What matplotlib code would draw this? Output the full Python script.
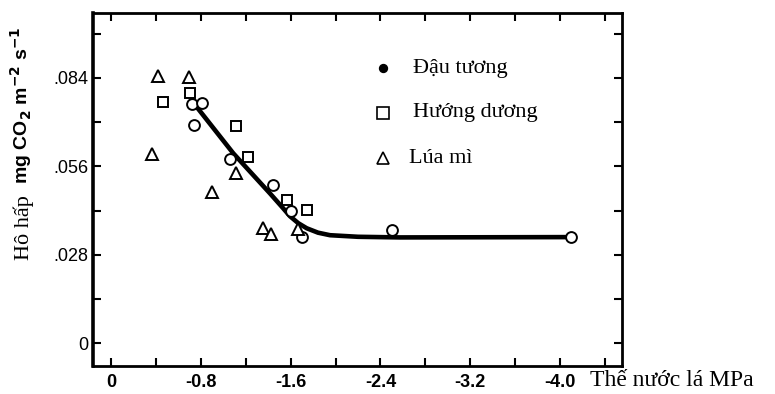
import matplotlib
matplotlib.use("Agg")
import matplotlib.pyplot as plt
from matplotlib.ticker import MultipleLocator, FixedLocator

# Data (leaf water potential MPa, respiration mg CO2 m-2 s-1)
soy_x = [-0.716, -0.805, -0.739, -1.058, -1.444, -1.599, -1.697, -2.501, -4.105]
soy_y = [0.0757, 0.0759, 0.0692, 0.0583, 0.0501, 0.0420, 0.0337, 0.0358, 0.0336]

sun_x = [-0.701, -0.457, -1.111, -1.216, -1.564, -1.742]
sun_y = [0.0791, 0.0762, 0.0686, 0.0590, 0.0453, 0.0423]

wheat_x = [-0.418, -0.694, -0.359, -1.108, -0.900, -1.349, -1.421, -1.667]
wheat_y = [0.0846, 0.0842, 0.0599, 0.0538, 0.0478, 0.0366, 0.0346, 0.0361]

curve_x = [-0.760, -1.087, -1.415, -1.530, -1.593, -1.667, -1.742, -1.843, -1.950, -2.200, -2.575, -4.105]
curve_y = [0.0748, 0.0601, 0.0474, 0.0428, 0.0402, 0.0380, 0.0364, 0.0350, 0.0342, 0.0337, 0.0335, 0.0336]

xticks = [0, -0.8, -1.6, -2.4, -3.2, -4.0]
xticklabels = ["0", "-0.8", "-1.6", "-2.4", "-3.2", "-4.0"]
yticks = [0, 0.028, 0.056, 0.084]
yticklabels = ["0", ".028", ".056", ".084"]

legend_labels = ["Đậu tương", "Hướng dương", "Lúa mì"]

W, H = 775, 394
fig = plt.figure(figsize=(W / 100, H / 100), dpi=100)
ax_l, ax_r, ax_t, ax_b = 93, 621.7, 13, 366
ax = fig.add_axes([ax_l / W, 1 - ax_b / H, (ax_r - ax_l) / W, (ax_b - ax_t) / H])

ax.plot(curve_x, curve_y, color="black", lw=3.3, solid_capstyle="round",
        solid_joinstyle="round", zorder=2)
mk = dict(ls="", mfc="white", mec="black", mew=1.4, zorder=3, clip_on=False)
ax.plot(soy_x, soy_y, marker="o", ms=7.8, **mk)
ax.plot(sun_x, sun_y, marker="s", ms=7.5, **mk)
ax.plot(wheat_x, wheat_y, marker="^", ms=8, **mk)

ax.set_xlim(0.165, -4.553)
ax.set_ylim(-0.00718, 0.1045)

ax.xaxis.set_major_locator(FixedLocator(xticks))
ax.xaxis.set_minor_locator(MultipleLocator(0.4))
ax.yaxis.set_major_locator(FixedLocator(yticks))
ax.yaxis.set_minor_locator(MultipleLocator(0.014))
ax.set_xticklabels(xticklabels, fontfamily="Liberation Sans", fontweight="bold", fontsize=13)
ax.set_yticklabels(yticklabels, fontfamily="Liberation Sans", fontsize=13)

ax.tick_params(which="both", direction="in", top=True, right=True, length=6, width=1.5, color="black")
ax.tick_params(axis="x", pad=6)
ax.tick_params(axis="y", pad=3)
for side, lw in [("left", 2.6), ("bottom", 2.0), ("top", 2.0), ("right", 2.0)]:
    ax.spines[side].set_linewidth(lw)

# legend (manual)
ys = [0.844, 0.717, 0.589]
markers = [("o", "black", 5.5), ("s", "white", 8), ("^", "white", 8.5)]
for (m, fc, ms), yy, lab, tx in zip(markers, ys, legend_labels, [0.605, 0.605, 0.598]):
    ax.plot([0.5485], [yy], marker=m, ms=ms, mfc=fc, mec="black", mew=1.2, ls="",
            transform=ax.transAxes, clip_on=False)
    ax.text(tx, yy, lab, transform=ax.transAxes, fontfamily="Liberation Serif",
            fontsize=16, va="center", ha="left")

# y label (two fonts)
fig.text(24 / W, 1 - 260 / H, "Hô hấp", rotation=90, ha="center", va="bottom",
         fontfamily="Liberation Serif", fontsize=16)
fig.text(21 / W, 1 - 184 / H, "mg CO$_\\mathbf{2}$ m$^{\\mathbf{-2}}$ s$^{\\mathbf{-1}}$",
         rotation=90, ha="center", va="bottom", fontfamily="Liberation Sans",
         fontweight="bold", fontsize=14)

# x label
fig.text(590 / W, 1 - 381 / H, "Thế nước lá MPa", ha="left", va="center",
         fontfamily="Liberation Serif", fontsize=17)

fig.savefig("out.png", dpi=100)
